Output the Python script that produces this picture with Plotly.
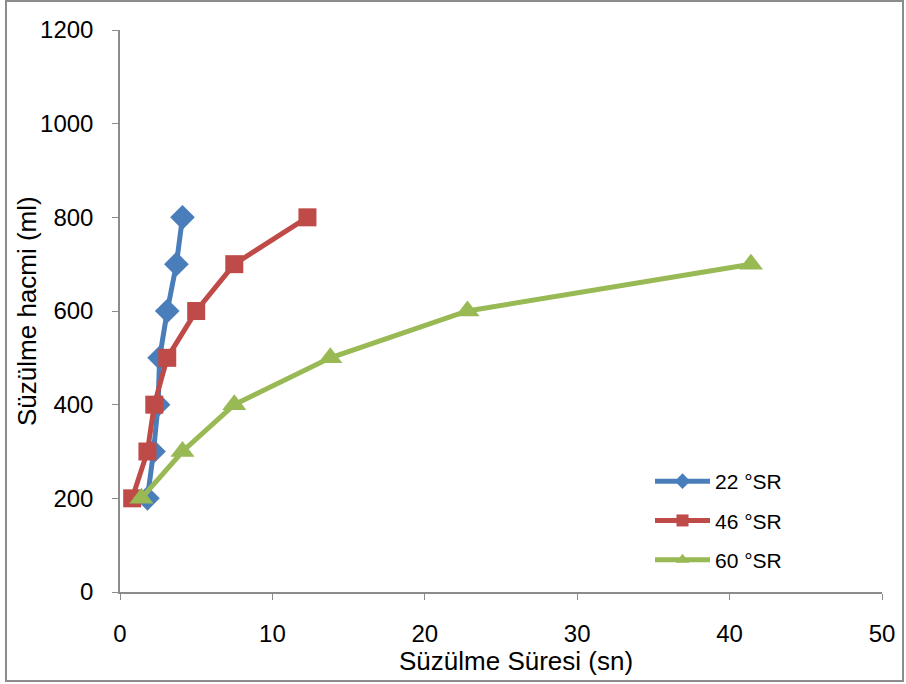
import plotly.graph_objects as go

vol = [200, 300, 400, 500, 600, 700, 800]
t22 = [1.8, 2.2, 2.5, 2.6, 3.1, 3.7, 4.1]
t46 = [0.8, 1.8, 2.25, 3.1, 5.0, 7.5, 12.3]
vol60 = [200, 300, 400, 500, 600, 700]
t60 = [1.4, 4.1, 7.5, 13.8, 22.8, 41.4]

names = ["22 °SR", "46 °SR", "60 °SR"]
colors = ["#4a7ebb", "#be4b48", "#98b954"]
x_title = "Süzülme Süresi (sn)"
y_title = "Süzülme hacmi (ml)"

fig = go.Figure()
fig.add_trace(go.Scatter(x=t22, y=vol, name=names[0], mode="lines+markers", legendgroup="a",
                         line=dict(color=colors[0], width=5),
                         marker=dict(symbol="diamond", size=19, color=colors[0])))
fig.add_trace(go.Scatter(x=t46, y=vol, name=names[1], mode="lines+markers", legendgroup="b",
                         line=dict(color=colors[1], width=5),
                         marker=dict(symbol="square", size=18, color=colors[1])))
fig.add_trace(go.Scatter(x=t60, y=vol60, name=names[2], mode="lines+markers", legendgroup="c",
                         line=dict(color=colors[2], width=5),
                         marker=dict(symbol="triangle-up", size=21, color=colors[2])))

W, H = 906, 684
L, R, T, B = 120, 24, 30, 92
pw, ph = W - L - R, H - T - B

def px(x):
    return (x - L) / pw

def py(y):
    return (H - B - y) / ph

fig.add_shape(type="rect", xref="paper", yref="paper",
              x0=px(6), x1=px(903), y0=py(681), y1=py(1),
              line=dict(color="#8c8c8c", width=2), fillcolor="rgba(0,0,0,0)", layer="below")

font = "Liberation Sans, Arial, sans-serif"
fig.add_annotation(text=x_title, xref="paper", yref="paper", x=px(516), y=py(661),
                   xanchor="center", yanchor="middle", showarrow=False,
                   font=dict(family=font, size=26, color="black"))
fig.add_annotation(text=y_title, xref="paper", yref="paper", x=px(27), y=py(311),
                   xanchor="center", yanchor="middle", showarrow=False, textangle=-90,
                   font=dict(family=font, size=26, color="black"))

fig.update_layout(
    width=W, height=H,
    margin=dict(l=L, r=R, t=T, b=B),
    paper_bgcolor="white", plot_bgcolor="white",
    font=dict(family=font, size=20, color="black"),
    showlegend=True,
    legend=dict(x=px(650), y=py(461), xanchor="left", yanchor="top",
                bgcolor="rgba(0,0,0,0)", font=dict(size=21), tracegroupgap=9,
                itemwidth=55, itemsizing="constant"),
    xaxis=dict(range=[0, 50], dtick=10, showgrid=False, zeroline=False,
               showline=True, linecolor="#8c8c8c", linewidth=1.5,
               ticks="outside", ticklen=6, tickcolor="#8c8c8c",
               tickfont=dict(size=24), ticklabelstandoff=13),
    yaxis=dict(range=[0, 1200], dtick=200, showgrid=False, zeroline=False,
               showline=True, linecolor="#8c8c8c", linewidth=1.5,
               ticks="outside", ticklen=6, tickcolor="#8c8c8c",
               tickfont=dict(size=24), ticklabelstandoff=14),
)

fig.write_html("out.html")
